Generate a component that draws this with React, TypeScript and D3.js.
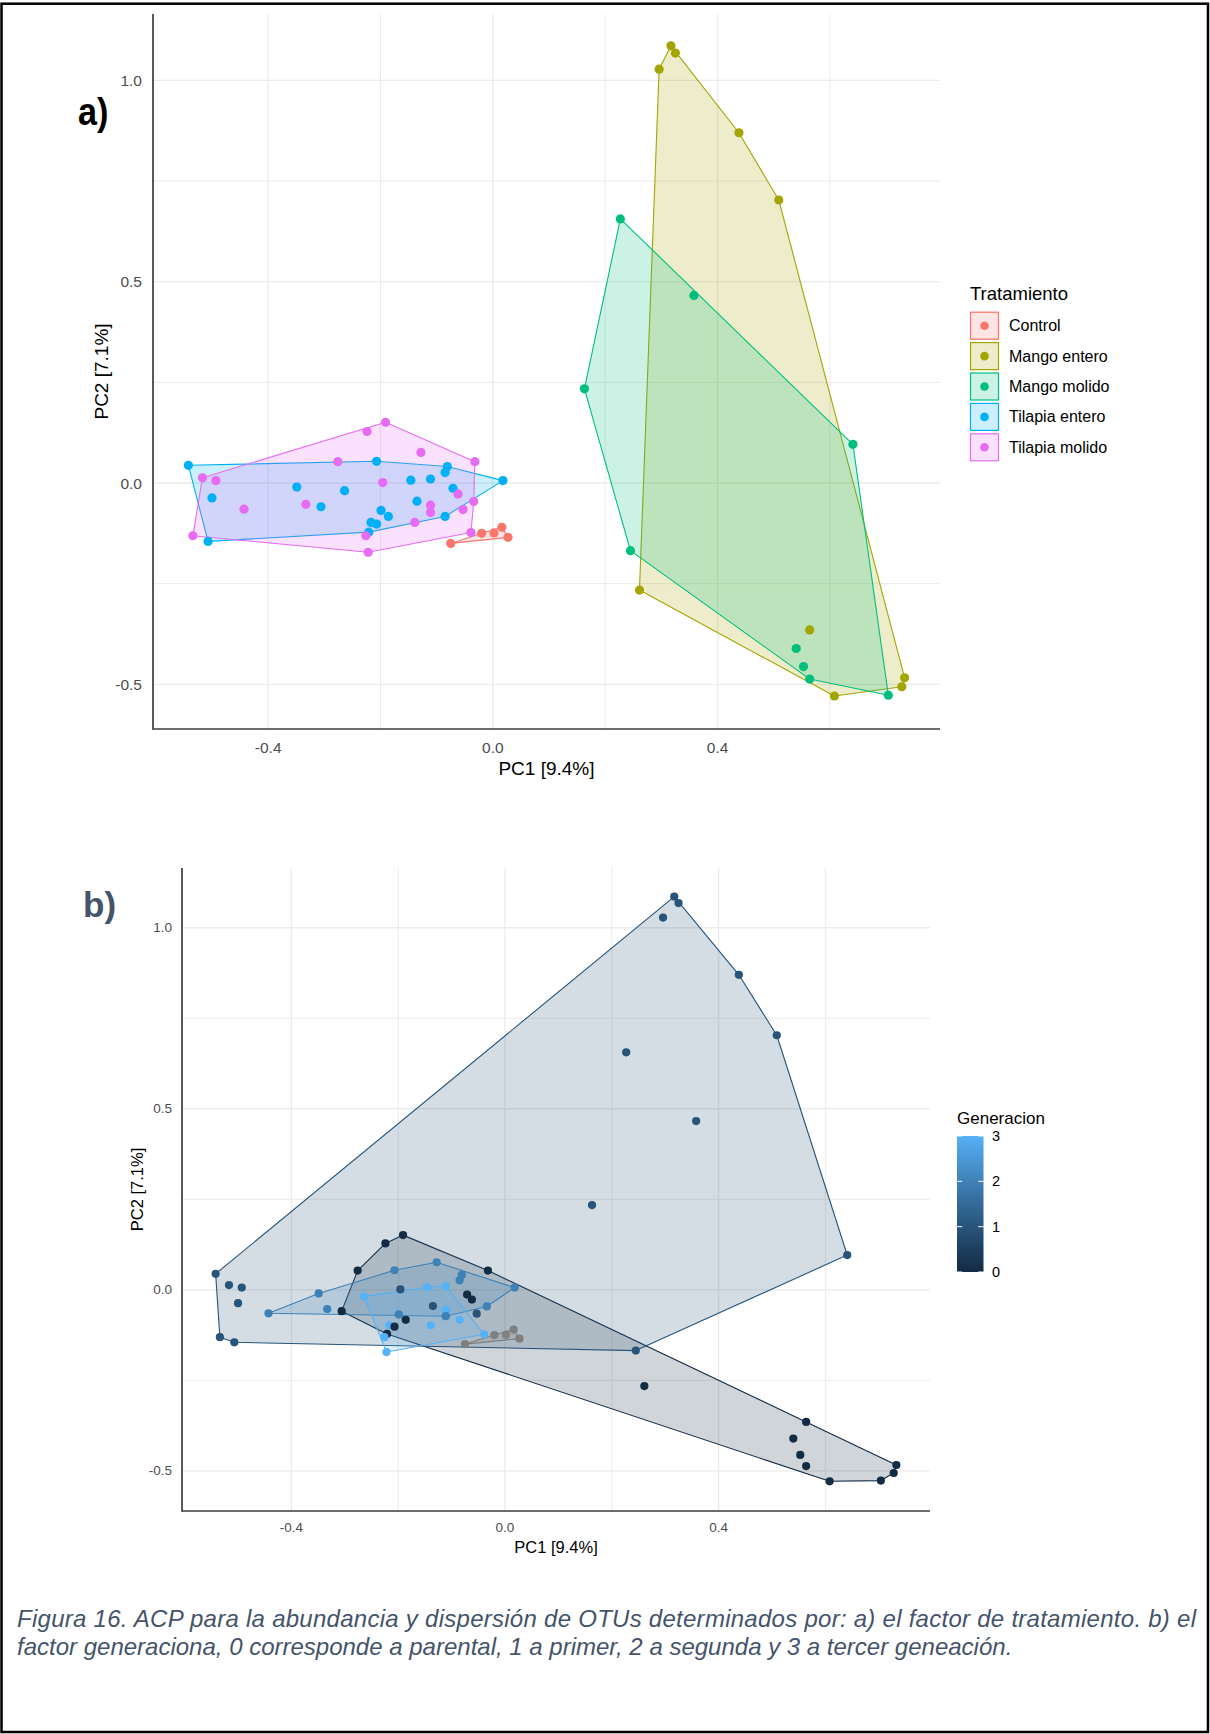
import React from "react";
import * as d3 from "d3";

// PC1, PC2, generation (null = no generation, e.g. Control)
type Pt = [number, number, number | null];

const treatments = ["Control", "Mango entero", "Mango molido", "Tilapia entero", "Tilapia molido"];
const treatmentColors = ["#F8766D", "#A3A500", "#00BF7D", "#00B0F6", "#E76BF3"];

const control: Pt[] = [
  [-0.075, -0.150, null],
  [-0.020, -0.125, null],
  [0.002, -0.124, null],
  [0.016, -0.110, null],
  [0.027, -0.135, null],
];

const mangoEntero: Pt[] = [
  [0.317, 1.086, 1],
  [0.325, 1.068, 1],
  [0.296, 1.028, 1],
  [0.438, 0.870, 1],
  [0.509, 0.703, 1],
  [0.261, -0.266, 0],
  [0.564, -0.365, 0],
  [0.608, -0.529, 0],
  [0.733, -0.484, 0],
  [0.728, -0.506, 0],
];

const mangoMolido: Pt[] = [
  [0.227, 0.656, 1],
  [0.358, 0.466, 1],
  [0.163, 0.234, 1],
  [0.641, 0.096, 1],
  [0.245, -0.168, 1],
  [0.540, -0.411, 0],
  [0.553, -0.456, 0],
  [0.564, -0.487, 0],
  [0.704, -0.527, 0],
];

const tilapiaEntero: Pt[] = [
  [-0.542, 0.044, 1],
  [-0.207, 0.054, 2],
  [-0.081, 0.041, 2],
  [-0.085, 0.026, 2],
  [0.018, 0.006, 2],
  [-0.146, 0.007, 3],
  [-0.111, 0.010, 3],
  [-0.349, -0.010, 2],
  [-0.264, -0.019, 3],
  [-0.500, -0.037, 1],
  [-0.071, -0.013, 0],
  [-0.306, -0.059, 0],
  [-0.135, -0.045, 1],
  [-0.199, -0.068, 2],
  [-0.186, -0.083, 0],
  [-0.217, -0.098, 3],
  [-0.207, -0.102, 0],
  [-0.085, -0.083, 3],
  [-0.221, -0.122, 0],
  [-0.507, -0.145, 1],
];

const tilapiaMolido: Pt[] = [
  [-0.191, 0.151, 0],
  [-0.224, 0.128, 0],
  [-0.128, 0.076, 2],
  [-0.032, 0.053, 0],
  [-0.276, 0.053, 0],
  [-0.517, 0.013, 1],
  [-0.493, 0.006, 1],
  [-0.196, 0.001, 1],
  [-0.062, -0.027, 0],
  [-0.443, -0.065, 2],
  [-0.333, -0.053, 2],
  [-0.034, -0.046, 2],
  [-0.111, -0.055, 3],
  [-0.111, -0.073, 2],
  [-0.053, -0.066, 1],
  [-0.139, -0.098, 3],
  [-0.534, -0.131, 1],
  [-0.039, -0.123, 3],
  [-0.226, -0.131, 3],
  [-0.222, -0.172, 3],
];

const treatmentData: Pt[][] = [control, mangoEntero, mangoMolido, tilapiaEntero, tilapiaMolido];

const generations = [0, 1, 2, 3];
const xTickValues = [-0.4, 0, 0.4];
const yTickValues = [-0.5, 0, 0.5, 1.0];
const xGridValues = [-0.4, -0.2, 0, 0.2, 0.4, 0.6];
const yGridValues = [-0.5, -0.25, 0, 0.25, 0.5, 0.75, 1.0];
const pc1Domain = [-0.605, 0.796];
const pc2Domain = [-0.611, 1.165];

const xTitle = "PC1 [9.4%]";
const yTitle = "PC2 [7.1%]";
const captionLines = [
  "Figura 16. ACP para la abundancia y dispersión de OTUs determinados por: a) el factor de tratamiento. b) el",
  "factor generaciona, 0 corresponde a parental, 1 a primer, 2 a segunda y 3 a tercer geneación.",
];

const FONT = "'Liberation Sans', Arial, sans-serif";
const NA_GREY = "#7F7F7F";

const genColor = d3
  .scaleLinear<string>()
  .domain([0, 3])
  .range(["#132B43", "#56B1F7"])
  .interpolate(d3.interpolateLab);

const fmt = (v: number) => v.toFixed(1);

interface Group {
  color: string;
  pts: Pt[];
}

interface PanelProps {
  left: number;
  right: number;
  top: number;
  bottom: number;
  groups: Group[];
  pointColor: (p: Pt, gi: number) => string;
  order: { p: Pt; gi: number }[];
  r: number;
  tickSize: number;
  titleSize: number;
  xLabelY: number;
  xTitleY: number;
  yLabelX: number;
  yTitleX: number;
}

function Panel(props: PanelProps) {
  const { left, right, top, bottom, groups, pointColor, order, r } = props;
  const x = d3.scaleLinear().domain(pc1Domain).range([left, right]);
  const y = d3.scaleLinear().domain(pc2Domain).range([bottom, top]);

  return (
    <g>
      {/* grid */}
      {xGridValues.map((v) => (
        <line
          key={"gx" + v}
          x1={x(v)}
          x2={x(v)}
          y1={top}
          y2={bottom}
          stroke="#EBEBEB"
          strokeWidth={xTickValues.includes(v) ? 1.3 : 1}
        />
      ))}
      {yGridValues.map((v) => (
        <line
          key={"gy" + v}
          x1={left}
          x2={right}
          y1={y(v)}
          y2={y(v)}
          stroke="#EBEBEB"
          strokeWidth={yTickValues.includes(v) ? 1.3 : 1}
        />
      ))}

      {/* convex hulls */}
      {groups.map((g, i) => {
        const hull = d3.polygonHull(g.pts.map((p) => [x(p[0]), y(p[1])] as [number, number]));
        if (!hull) return null;
        return (
          <path
            key={"h" + i}
            d={"M" + hull.map((q) => q.join(",")).join("L") + "Z"}
            fill={g.color}
            fillOpacity={0.2}
            stroke={g.color}
            strokeWidth={1.1}
            strokeLinejoin="round"
          />
        );
      })}

      {/* points */}
      {order.map((o, i) => (
        <circle key={"p" + i} cx={x(o.p[0])} cy={y(o.p[1])} r={r} fill={pointColor(o.p, o.gi)} />
      ))}

      {/* axis lines */}
      <line x1={left} x2={left} y1={top} y2={bottom + 0.8} stroke="#3C3C3C" strokeWidth={1.7} />
      <line x1={left} x2={right} y1={bottom} y2={bottom} stroke="#3C3C3C" strokeWidth={1.7} />

      {/* tick labels */}
      {xTickValues.map((v) => (
        <text
          key={"tx" + v}
          x={x(v)}
          y={props.xLabelY}
          textAnchor="middle"
          dominantBaseline="central"
          fontSize={props.tickSize}
          fill="#4D4D4D"
        >
          {fmt(v)}
        </text>
      ))}
      {yTickValues.map((v) => (
        <text
          key={"ty" + v}
          x={props.yLabelX}
          y={y(v)}
          textAnchor="end"
          dominantBaseline="central"
          fontSize={props.tickSize}
          fill="#4D4D4D"
        >
          {fmt(v)}
        </text>
      ))}

      {/* axis titles */}
      <text
        x={(left + right) / 2}
        y={props.xTitleY}
        textAnchor="middle"
        dominantBaseline="central"
        fontSize={props.titleSize}
        fill="#000"
      >
        {xTitle}
      </text>
      <text
        transform={`translate(${props.yTitleX},${(top + bottom) / 2}) rotate(-90)`}
        textAnchor="middle"
        dominantBaseline="central"
        fontSize={props.titleSize}
        fill="#000"
      >
        {yTitle}
      </text>
    </g>
  );
}

export default function App() {
  const allPoints: { p: Pt; gi: number }[] = [];
  treatmentData.forEach((arr, gi) => arr.forEach((p) => allPoints.push({ p, gi })));

  const groupsA: Group[] = treatmentData.map((pts, i) => ({ color: treatmentColors[i], pts }));

  const everyPt = allPoints.map((o) => o.p);
  const groupsB: Group[] = [
    ...generations.map((g) => ({ color: genColor(g), pts: everyPt.filter((p) => p[2] === g) })),
    { color: NA_GREY, pts: everyPt.filter((p) => p[2] === null) },
  ];

  // colour bar geometry
  const barX = 957;
  const barW = 26.5;
  const barTop = 1136;
  const barBottom = 1272;
  const barScale = d3.scaleLinear().domain([0, 3]).range([barBottom, barTop]);
  const gradStops = d3.range(0, 1.0001, 0.1);

  return (
    <svg
      width={1210}
      height={1734}
      viewBox="0 0 1210 1734"
      style={{ position: "absolute", left: 0, top: 0, background: "#fff" }}
      fontFamily={FONT}
    >
      <rect x={0} y={0} width={1210} height={1734} fill="#fff" />
      <defs>
        <linearGradient id="genGrad" x1="0" y1="1" x2="0" y2="0">
          {gradStops.map((t) => (
            <stop key={t} offset={t} stopColor={genColor(t * 3)} />
          ))}
        </linearGradient>
      </defs>

      {/* panel a */}
      <Panel
        left={153}
        right={940}
        top={14}
        bottom={729}
        groups={groupsA}
        order={allPoints}
        pointColor={(_p, gi) => treatmentColors[gi]}
        r={4.6}
        tickSize={15.5}
        titleSize={19}
        xLabelY={747}
        xTitleY={768}
        yLabelX={142}
        yTitleX={101}
      />
      <text x={78} y={125} fontSize={38} fontWeight="bold" fill="#000" transform="translate(78,125) scale(0.9,1) translate(-78,-125)">
        a)
      </text>

      {/* legend a */}
      <text x={970} y={293} fontSize={18.5} dominantBaseline="central" fill="#000">
        Tratamiento
      </text>
      {treatments.map((t, i) => {
        const cy = 325.7 + i * 30.4;
        return (
          <g key={t}>
            <rect
              x={970.5}
              y={cy - 13.5}
              width={28}
              height={27}
              fill={treatmentColors[i]}
              fillOpacity={0.2}
              stroke={treatmentColors[i]}
              strokeWidth={1.2}
            />
            <circle cx={984.5} cy={cy} r={4.3} fill={treatmentColors[i]} />
            <text x={1009} y={cy} fontSize={16} dominantBaseline="central" fill="#000">
              {t}
            </text>
          </g>
        );
      })}

      {/* panel b */}
      <Panel
        left={182}
        right={930}
        top={868}
        bottom={1511}
        groups={groupsB}
        order={allPoints}
        pointColor={(p) => (p[2] === null ? NA_GREY : genColor(p[2]))}
        r={4.1}
        tickSize={13.5}
        titleSize={16.5}
        xLabelY={1527}
        xTitleY={1547}
        yLabelX={172}
        yTitleX={137}
      />
      <text x={83} y={917} fontSize={35} fontWeight="bold" fill="#44546A">
        b)
      </text>

      {/* legend b */}
      <text x={957} y={1118} fontSize={17} dominantBaseline="central" fill="#000">
        Generacion
      </text>
      <rect x={barX} y={barTop} width={barW} height={barBottom - barTop} fill="url(#genGrad)" />
      {generations.map((g) => (
        <g key={"bt" + g}>
          <line x1={barX} x2={barX + 5.3} y1={barScale(g)} y2={barScale(g)} stroke="#fff" strokeWidth={1} />
          <line x1={barX + barW - 5.3} x2={barX + barW} y1={barScale(g)} y2={barScale(g)} stroke="#fff" strokeWidth={1} />
          <text x={992} y={barScale(g)} fontSize={14.5} dominantBaseline="central" fill="#000">
            {g}
          </text>
        </g>
      ))}

      {/* caption */}
      <text x={17} y={1627} fontSize={24} fontStyle="italic" fill="#44546A" textLength={1179} lengthAdjust="spacing">
        {captionLines[0]}
      </text>
      <text x={17} y={1655} fontSize={24} fontStyle="italic" fill="#44546A">
        {captionLines[1]}
      </text>

      {/* frame */}
      <rect x={1.5} y={3.7} width={1206.5} height={1728.3} fill="none" stroke="#000" strokeWidth={2.5} />
    </svg>
  );
}
